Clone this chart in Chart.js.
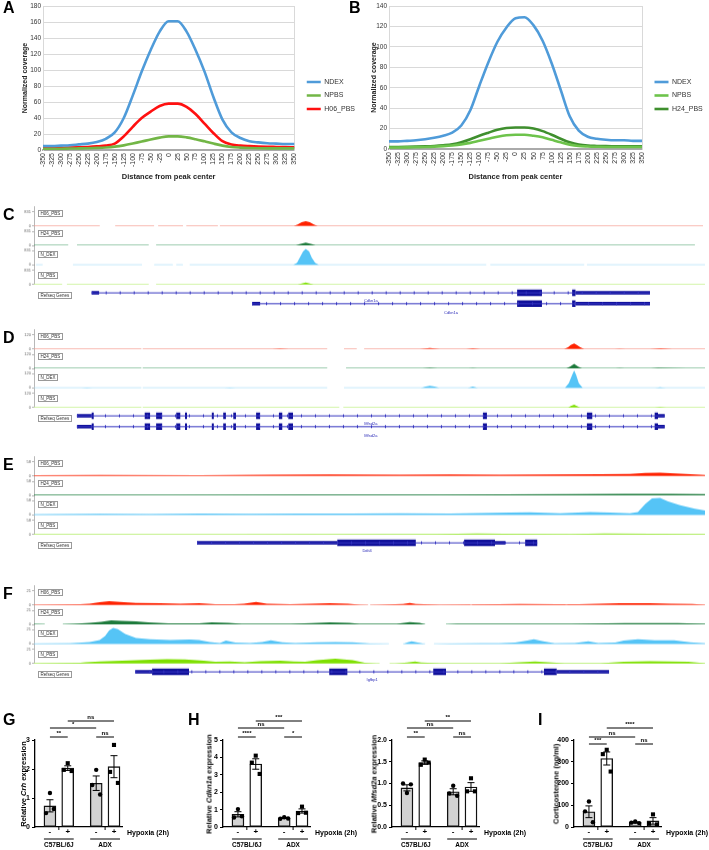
<!DOCTYPE html>
<html>
<head>
<meta charset="utf-8">
<title>Figure</title>
<script src="https://cdn.jsdelivr.net/npm/chart.js@4.4.1/dist/chart.umd.min.js"></script>
<style>
  body { margin: 0; background: #fff; }
  #fig { position: relative; width: 709px; height: 850px; overflow: hidden; font-family: "Liberation Sans", Arial, sans-serif; }
  #fig canvas { position: absolute; }
  .letter { position: absolute; font-size: 16px; font-weight: bold; line-height: 1; color: #000; }
  .tbox { position: absolute; font-size: 4.5px; line-height: 5px; padding: 0 1.5px; border: 0.8px solid #999; color: #333; background: #fff; white-space: nowrap; }
  .gname { position: absolute; font-size: 4px; line-height: 4px; color: #2b2bb8; transform: translateX(-50%); white-space: nowrap; }
  .ytitle { position: absolute; font-size: 7.5px; font-weight: bold; white-space: nowrap; transform: translate(-50%, -50%) rotate(-90deg); }
</style>
</head>
<body>
<div id="fig"></div>
<script>
Chart.defaults.font.family = '"Liberation Sans", Arial, sans-serif';
Chart.defaults.animation = false;
Chart.defaults.events = [];
Chart.defaults.plugins.tooltip.enabled = false;

/* A, B - average coverage around peak centres */
const distLabels = ['-350', '-325', '-300', '-275', '-250', '-225', '-200', '-175', '-150', '-125', '-100', '-75', '-50', '-25',
    '0', '25', '50', '75', '100', '125', '150', '175', '200', '225', '250', '275', '300', '325', '350'];

const aNDEX = [5, 5, 5.5, 6, 7, 8, 10, 14, 22, 40, 68, 98, 125, 148, 161, 161, 148, 125, 98, 66, 38, 22, 15, 11, 9.5, 8.5, 8, 7.5, 7.5];
const aNPBS = [1.5, 1.5, 1.5, 1.8, 2, 2.2, 2.6, 3.2, 4.2, 5.8, 8, 10.5, 13.2, 15.5, 17, 17, 15.8, 13.5, 10.8, 8, 5.5, 3.8, 3, 2.5, 2.2, 2, 2, 2, 2];
const aH06 = [2.5, 2.6, 2.8, 3, 3.3, 3.8, 4.5, 5.5, 8, 17, 29, 40, 48, 55, 58, 58, 54, 45, 33, 21, 11, 7, 5.5, 4.8, 4.3, 4, 3.8, 3.6, 3.5];

const bNDEX = [7.5, 7.5, 8, 8.5, 9.5, 11, 13, 16, 23, 38, 62, 85, 105, 119, 128, 129, 121, 106, 84, 58, 32, 18, 12, 10, 9, 8.5, 8.5, 8, 8];
const bNPBS = [1.5, 1.5, 1.6, 1.8, 2, 2.3, 2.8, 3.5, 4.5, 6, 8, 10, 12, 13.5, 14, 14, 13, 11.5, 9, 6.5, 4.3, 3, 2.5, 2.2, 2, 2, 2, 2, 2];
const bH24 = [2, 2, 2.1, 2.3, 2.6, 3, 3.6, 4.5, 6.5, 9.5, 13, 16, 18.8, 20.5, 21, 21, 20, 17.5, 14, 10, 6.5, 4.3, 3.3, 3, 2.8, 2.7, 2.6, 2.6, 2.6];

/* C-F - browser tracks: [position in % of window, signal] */
const cMax = 831;
const cH06 = [[38.7, 0], [39.3, 90], [39.9, 220], [40.5, 280], [41.1, 220], [41.7, 90], [42.3, 0]];
const cH24 = [[39.0, 0], [39.6, 80], [40.5, 170], [41.4, 80], [42.0, 0]];
const cNDEX = [[38.6, 0], [39.2, 120], [39.6, 420], [40.1, 800], [40.5, 950], [41.0, 800], [41.4, 420], [41.9, 120], [42.5, 0]];
const cNPBS = [[39.3, 0], [39.9, 60], [40.5, 110], [41.1, 60], [41.7, 0]];
const cCovered = [
    [[0, 9.8], [12.1, 17.9], [18.5, 22.2], [22.7, 27.4], [27.7, 99.7]],
    [[0, 5.1], [6.4, 17.1], [18.2, 98.5]],
    [[0.3, 1.3], [5.8, 16.1], [17.9, 20.7], [21.2, 22.2], [23.2, 67.4], [68.0, 82.0], [82.4, 100]],
    [[0, 4.2], [4.9, 17.1], [18.2, 100]]
];
const cGenes = [
    {name: 'Cdkn1a', span: [8.6, 91.8], utr: [[8.6, 9.7], [80.7, 91.8]], cds: [[72.0, 75.7], [80.2, 80.7]]},
    {name: 'Cdkn1a', span: [32.5, 91.8], utr: [[32.5, 33.7], [80.7, 91.8]], cds: [[72.0, 75.7], [80.2, 80.7]]}
];

const dMax = 120;
const dH06 = [[35.5, 0], [36.7, 4], [38, 0], [57.5, 0], [59.0, 8], [60.5, 0], [64.4, 0], [65.4, 6], [66.5, 0], [79.0, 0], [79.6, 15], [80.0, 35],
    [80.5, 48], [80.9, 35], [81.4, 15], [82.0, 0], [86.5, 0], [87.3, 3], [88.2, 0], [91.8, 0], [93.4, 6], [95.1, 0]];
const dH24 = [[57.8, 0], [59.0, 5], [60.3, 0], [64.6, 0], [65.4, 3], [66.2, 0], [79.3, 0], [79.9, 15], [80.5, 40], [81.1, 15], [81.7, 0],
    [86.5, 0], [87.3, 3], [88.2, 0], [91.8, 0], [93, 4], [95, 3], [97.8, 0]];
const dNDEX = [[7.0, 0], [7.9, 3], [8.8, 0], [28.3, 0], [29.2, 3], [30.1, 0], [57.6, 0], [58.4, 12], [59.0, 18], [59.7, 12], [60.5, 0],
    [64.6, 0], [65.4, 12], [66.2, 0], [79.1, 0], [79.7, 40], [80.2, 110], [80.5, 150], [80.8, 110], [81.2, 40], [81.8, 0], [92.5, 0], [93.3, 6], [94.2, 0]];
const dNPBS = [[79.6, 0], [80.0, 12], [80.5, 24], [80.9, 12], [81.4, 0], [92.5, 0], [93.3, 3], [94.2, 0]];
const dCovered = [
    [[0, 16.0], [16.2, 43.7], [46.2, 48.1], [49.2, 100]],
    [[0, 16.0], [16.2, 43.7], [46.5, 100]],
    [[0, 16.0], [16.2, 43.7], [46.2, 100]],
    [[0, 16.0], [16.2, 45.5], [46.1, 100]]
];
const mfsd2aCds = [[8.6, 8.9], [16.5, 17.3], [18.2, 19.1], [21.2, 21.8], [22.5, 22.8], [26.5, 26.8], [28.2, 28.6], [29.7, 30.1],
    [33.1, 33.7], [36.5, 37.0], [37.9, 38.6], [66.9, 67.5], [82.4, 83.2], [92.5, 93.0]];
const dGenes = [
    {name: 'Mfsd2a', span: [6.4, 94.0], utr: [[6.4, 8.6], [93.0, 94.0]], cds: mfsd2aCds},
    {name: 'Mfsd2a', span: [6.4, 94.0], utr: [[6.4, 8.6], [93.0, 94.0]], cds: mfsd2aCds}
];

const eMax = 58;
const eH06 = [[0, 3], [9.8, 4], [24.7, 3], [35.2, 5], [44.1, 6], [54.5, 5], [62, 6], [69.4, 5], [76.9, 6], [84.4, 7], [88.8, 8], [91.1, 12],
    [93.3, 13], [96.3, 9], [99.3, 5], [100, 4]];
const eH24 = [[0, 2], [20, 2], [40, 3], [60, 3], [80, 5], [88, 6], [95, 6], [100, 5]];
const eNDEX = [[0, 3], [9.8, 5], [17.3, 4], [24.7, 6], [32.2, 5], [39.6, 6], [47.1, 6], [54.5, 7], [62, 6], [66.5, 8], [70.9, 10], [73.9, 11],
    [78.4, 7], [82.9, 12], [85.8, 10], [88.8, 7], [90, 12], [91.1, 45], [92.1, 68], [93.3, 70], [94.5, 55], [96.3, 40], [98.5, 25], [100, 18]];
const eNPBS = [[0, 1], [30, 1], [60, 2], [66, 4], [70, 3], [80, 2], [85, 4], [92, 3], [100, 2]];
const eCovered = [[[0, 100]], [[0, 100]], [[0, 100]], [[0, 100]]];
const eGenes = [
    {name: 'Ddit4', span: [24.3, 75.0], utr: [[24.3, 45.2], [68.7, 70.2]], cds: [[45.2, 56.9], [64.1, 68.7], [73.2, 75.0]]}
];

const fMax = 21;
const fH06 = [[0, 0.5], [6.9, 1], [8.3, 2], [9.8, 4], [11.2, 5.5], [12.8, 4.5], [15.2, 3], [18.8, 2.5], [21.8, 2], [24.6, 2.5], [27, 1], [29.9, 1],
    [31.3, 2], [33.1, 4.5], [34.7, 2], [38.2, 1], [41.4, 2], [44.1, 2.5], [46.8, 2], [48.6, 0.5], [49.8, 0], [50.1, 0], [51.6, 0.5], [55, 1.5],
    [56, 3], [56.9, 1.5], [60.5, 0.5], [69.2, 1], [72.4, 1.5], [77.9, 1], [81.2, 1], [84.4, 2], [87.3, 2.5], [91.8, 2.5], [94.8, 2], [98.1, 1.5], [100, 0.5]];
const fH24 = [[0, 0.5], [1.6, 0], [4.3, 0], [6, 1], [8.3, 2.5], [10, 4], [11.5, 6], [13, 5.5], [15.2, 4.5], [17, 3], [20, 1.5], [24.6, 1.5],
    [26.5, 3], [29, 2.5], [31, 1], [38.2, 1], [41.4, 2], [44.1, 3], [47, 2.5], [48.5, 1], [54, 1], [56, 3.5], [57.5, 2.5], [58.3, 0], [61.4, 0],
    [63, 1], [80, 1], [88, 1.8], [96, 1.8], [100, 1]];
const fNDEX = [[0, 0.5], [5.4, 1], [8.3, 3], [9.8, 6], [10.6, 12], [11.2, 20], [11.8, 24], [12.5, 22], [13.6, 15], [15.2, 9], [17.3, 7], [20.3, 6],
    [23.2, 6.5], [24.6, 6], [26.2, 3], [27.7, 1.5], [28.6, 5], [30.0, 2], [32.2, 1.5], [34.0, 3], [35.3, 5.5], [37.0, 2.5], [38.9, 1.5], [42.2, 2.5],
    [44.9, 3], [47.5, 2.5], [50.1, 0.5], [52.9, 0], [55.0, 0], [55.7, 2.5], [56.3, 4], [57.2, 2], [58.3, 0], [59.6, 0], [62.0, 0.5], [66.5, 1],
    [69.2, 1], [71.7, 2], [73.5, 5], [74.5, 7], [75.9, 4], [77.6, 1], [80.6, 1.5], [82.6, 4], [84.1, 1.5], [86.6, 2], [87.9, 5], [90.0, 7],
    [92.5, 5.5], [95.4, 5.5], [97.8, 2.5], [100, 1]];
const fNPBS = [[0, 0.5], [6.9, 1], [7.7, 2], [9.8, 3], [14.3, 4.5], [17.3, 5.5], [19.8, 6.5], [22.5, 6], [25.3, 4], [27, 2.5], [29.2, 3], [31.4, 2],
    [33.7, 3.5], [36.7, 4], [38.7, 3], [40.4, 2.5], [42.2, 5], [44.9, 7], [47.5, 5], [49.3, 1], [51, 0], [53.8, 0], [55.6, 1.5], [56.8, 3], [57.7, 1.5],
    [60.5, 0.5], [69.4, 0.5], [72.4, 2], [74.7, 3], [76.6, 2], [79.1, 0.5], [84.4, 0.5], [87.9, 2.5], [91.8, 3.5], [94.8, 3], [97.5, 2.5], [100, 0.5]];
const fCovered = [
    [[0, 49.8], [50.1, 65], [65.3, 79.2], [79.5, 100]],
    [[0, 1.6], [4.3, 58.3], [61.4, 100]],
    [[0, 52.9], [55.0, 58.3], [59.6, 100]],
    [[0, 51.5], [53.0, 100]]
];
const fGenes = [
    {name: 'Igfbp1', span: [15.1, 85.7], utr: [[15.1, 17.6], [77.9, 85.7]], cds: [[17.6, 23.1], [44.0, 46.7], [59.5, 61.4], [76.0, 77.9]]}
];

/* G-I - qPCR / ELISA bars (mean, SEM, replicates) */
const hypoxia = ['-', '+', '-', '+'];
const groups = ['C57BL/6J', 'ADX'];

const gMean = [0.73, 2.03, 1.51, 2.08];
const gSem = [0.21, 0.08, 0.25, 0.38];
const gPts = [[0.48, 1.17, 0.62], [1.97, 2.2, 1.93], [1.45, 1.97, 1.12], [1.9, 2.83, 1.52]];
const gSig = [[0, 1, '**'], [2, 3, 'ns'], [0, 2, '*'], [1, 3, 'ns']];

const cdMean = [0.73, 3.62, 0.52, 0.92];
const cdSem = [0.15, 0.3, 0.03, 0.12];
const cdPts = [[0.55, 1.03, 0.62], [3.7, 4.1, 3.05], [0.47, 0.56, 0.49], [0.8, 1.17, 0.82]];
const cdSig = [[0, 1, '****'], [2, 3, '*'], [0, 2, 'ns'], [1, 3, '***']];

const mfMean = [0.9, 1.48, 0.81, 0.92];
const mfSem = [0.07, 0.04, 0.07, 0.1];
const mfPts = [[1.0, 0.78, 0.98], [1.43, 1.55, 1.48], [0.77, 0.95, 0.72], [0.82, 1.12, 0.82]];
const mfSig = [[0, 1, '**'], [2, 3, 'ns'], [0, 2, 'ns'], [1, 3, '**']];

const coMean = [70, 315, 21, 28];
const coSem = [27, 30, 2, 15];
const coPts = [[72, 117, 22], [335, 355, 255], [20, 25, 18], [15, 58, 12]];
const coSig = [[0, 1, '***'], [2, 3, 'ns'], [0, 2, 'ns'], [1, 3, '****']];

/* helpers */
const fig = document.getElementById('fig');

function addCanvas(x, y, w, h) {
    const c = document.createElement('canvas');
    c.width = w;
    c.height = h;
    c.style.left = x + 'px';
    c.style.top = y + 'px';
    c.style.width = w + 'px';
    c.style.height = h + 'px';
    fig.appendChild(c);
    return c;
}

function addDiv(cls, html, x, y) {
    const d = document.createElement('div');
    d.className = cls;
    d.innerHTML = html;
    d.style.left = x + 'px';
    d.style.top = y + 'px';
    fig.appendChild(d);
    return d;
}

/* profile charts (A, B) */
function profileChart(x, w, series, yMax, padL, yW, xH, legW) {
    const cv = addCanvas(x, 0, w, 185);
    return new Chart(cv, {
        type: 'line',
        data: {
            labels: distLabels,
            datasets: series.map(s => ({
                label: s.label,
                data: s.data,
                borderColor: s.color,
                backgroundColor: s.color,
                borderWidth: 2.6,
                pointRadius: 0,
                cubicInterpolationMode: 'monotone',
                fill: false
            }))
        },
        options: {
            responsive: false,
            layout: {padding: {left: padL, top: 6, right: 0, bottom: 0}},
            scales: {
                x: {
                    offset: false,
                    grid: {display: false, drawTicks: false},
                    border: {color: '#aaaaaa', width: 2},
                    ticks: {autoSkip: false, maxRotation: 90, minRotation: 90, font: {size: 7}, color: '#333', padding: 3},
                    title: {display: true, text: 'Distance from peak center', font: {size: 7.5, weight: 'bold'}, color: '#222', padding: {top: 0, bottom: 4}},
                    afterFit: s => { s.height = xH; }
                },
                y: {
                    min: 0,
                    max: yMax,
                    ticks: {stepSize: 20, font: {size: 6.5}, color: '#333', padding: 2},
                    grid: {color: '#d9d9d9', drawTicks: false},
                    border: {color: '#d9d9d9'},
                    title: {display: true, text: 'Normalized coverage', font: {size: 7, weight: 'bold'}, color: '#222', padding: {top: 4, bottom: 0}},
                    afterFit: s => { s.width = yW; }
                },
                y2: {
                    type: 'linear',
                    position: 'right',
                    ticks: {display: false},
                    grid: {display: false, drawTicks: false},
                    border: {color: '#d9d9d9'},
                    afterFit: s => { s.width = 6; }
                }
            },
            plugins: {
                legend: {
                    position: 'right',
                    maxWidth: legW,
                    labels: {usePointStyle: true, pointStyle: 'line', pointStyleWidth: 14, boxHeight: 7, padding: 6.5, font: {size: 7}, color: '#333'}
                }
            }
        }
    });
}

profileChart(0, 365, [
    {label: 'NDEX', data: aNDEX, color: '#4f9bd9'},
    {label: 'NPBS', data: aNPBS, color: '#72b646'},
    {label: 'H06_PBS', data: aH06, color: '#ff1010'}
], 180, 17, 26, 35, 65);

profileChart(355, 354, [
    {label: 'NDEX', data: bNDEX, color: '#4f9bd9'},
    {label: 'NPBS', data: bNPBS, color: '#6dc34b'},
    {label: 'H24_PBS', data: bH24, color: '#3f8f2e'}
], 140, 11, 23, 36, 61);

/* browser track panels (C-F) */
const trackNames = ['H06_PBS', 'H24_PBS', 'N_DEX', 'N_PBS'];
const trackFill = ['#ff2200', '#1d7a3b', '#55c4f6', '#7ee000'];
const trackBase = ['#f6a49a', '#3f9c62', '#b4e4fa', '#c4f08c'];
const TRACK_H = 20.7;
const GENE_H = 32;
const ROW_Y = [0.72, 0.36];

function segPoints(list, yv) {
    return list.flatMap(s => [{x: s[0], y: yv}, {x: s[1], y: yv}, {x: s[1], y: null}]);
}

function trackPanel(letter, top, maxVal, covs, covered, genes) {
    const h = TRACK_H * 4 + GENE_H;
    const cv = addCanvas(0, top, 709, h);
    const scales = {x: {type: 'linear', min: 0, max: 100, display: false}};
    const datasets = [];

    covs.forEach((cov, i) => {
        const id = 't' + i;
        scales[id] = {
            type: 'linear', position: 'left', stack: 'trk', stackWeight: TRACK_H, weight: 10 - i,
            min: 0, max: maxVal * 1.38,
            afterBuildTicks: s => { s.ticks = [{value: 0}, {value: maxVal}]; },
            afterFit: s => { s.width = 34; },
            ticks: {font: {size: 4}, color: '#666', padding: 1, autoSkip: false},
            grid: {drawOnChartArea: false, tickLength: 2, color: '#888', lineWidth: 0.6},
            border: {color: '#888', width: 0.6}
        };
        datasets.push({
            data: cov.map(p => ({x: p[0], y: p[1]})),
            yAxisID: id, fill: 'origin', backgroundColor: trackFill[i], borderWidth: 0, order: 1
        });
        datasets.push({
            data: segPoints(covered[i], 0),
            yAxisID: id, fill: false, borderColor: trackBase[i], borderWidth: 1.3, order: 2
        });
    });

    scales.g = {
        type: 'linear', position: 'left', stack: 'trk', stackWeight: GENE_H, weight: 1, min: 0, max: 1,
        afterFit: s => { s.width = 34; },
        ticks: {display: false}, grid: {display: false, drawTicks: false}, border: {display: false}
    };
    genes.forEach((gn, k) => {
        const yv = ROW_Y[k];
        const line = [{x: gn.span[0], y: yv}, {x: gn.span[1], y: yv}];
        datasets.push({data: line, yAxisID: 'g', borderColor: '#3434bf', borderWidth: 1, order: 3});
        datasets.push({data: line, yAxisID: 'g', borderColor: '#3434bf', borderWidth: 3, borderDash: [1, 13], order: 3});
        datasets.push({data: segPoints(gn.utr, yv), yAxisID: 'g', borderColor: '#10109a', borderWidth: 3.5, order: 3});
        datasets.push({data: segPoints(gn.cds, yv), yAxisID: 'g', borderColor: '#10109a', borderWidth: 6.5, order: 3});
    });

    const chart = new Chart(cv, {
        type: 'line',
        data: {datasets: datasets},
        options: {
            responsive: false,
            layout: {padding: {left: 0, right: 4, top: 0, bottom: 0}},
            elements: {point: {radius: 0}, line: {tension: 0}},
            scales: scales,
            plugins: {legend: {display: false}}
        }
    });

    addDiv('letter', letter, 3, top + 4);
    trackNames.forEach((n, i) => addDiv('tbox', n, 38, top + TRACK_H * (i + 1) - 14.5));
    const rowPix = k => top + TRACK_H * 4 + GENE_H * (1 - ROW_Y[k]);
    addDiv('tbox', 'Refseq Genes', 38, rowPix(0) - 3);
    genes.forEach((gn, k) => {
        const px = chart.scales.x.getPixelForValue((gn.span[0] + gn.span[1]) / 2);
        addDiv('gname', gn.name, px, rowPix(k) + 4);
    });
}

trackPanel('C', 203.3, cMax, [cH06, cH24, cNDEX, cNPBS], cCovered, cGenes);
trackPanel('D', 326.3, dMax, [dH06, dH24, dNDEX, dNPBS], dCovered, dGenes);
trackPanel('E', 453.3, eMax, [eH06, eH24, eNDEX, eNPBS], eCovered, eGenes);
trackPanel('F', 582.3, fMax, [fH06, fH24, fNDEX, fNPBS], fCovered, fGenes);

/* bar panels (G-I) */
const JIT = [-0.22, 0, 0.22];
const SIG_LEVEL = [0, 0, 1, 2];
const FONT = '"Liberation Sans", Arial, sans-serif';

function prismPlugin(pos, mean, sem, sig, sigOff) {
    return {
        id: 'prism',
        afterDatasetsDraw(chart) {
            const {ctx, scales: {x, y}} = chart;
            ctx.save();
            ctx.strokeStyle = '#000';
            ctx.lineWidth = 1;
            mean.forEach((m, i) => {
                const px = x.getPixelForValue(pos[i]);
                const lo = y.getPixelForValue(m - sem[i]);
                const hi = y.getPixelForValue(m + sem[i]);
                ctx.beginPath();
                ctx.moveTo(px, lo); ctx.lineTo(px, hi);
                ctx.moveTo(px - 3.5, lo); ctx.lineTo(px + 3.5, lo);
                ctx.moveTo(px - 3.5, hi); ctx.lineTo(px + 3.5, hi);
                ctx.stroke();
            });
            ctx.restore();
        },
        afterDraw(chart) {
            const {ctx, chartArea: a, scales: {x}} = chart;
            ctx.save();
            ctx.strokeStyle = '#000';
            ctx.fillStyle = '#000';
            ctx.lineWidth = 1;
            ctx.textAlign = 'center';
            ctx.textBaseline = 'bottom';
            ctx.font = 'bold 6px ' + FONT;
            sig.forEach((s, k) => {
                const yy = a.top + sigOff[SIG_LEVEL[k]];
                const xa = x.getPixelForValue(pos[s[0]]);
                const xb = x.getPixelForValue(pos[s[1]]);
                ctx.beginPath(); ctx.moveTo(xa, yy); ctx.lineTo(xb, yy); ctx.stroke();
                ctx.fillText(s[2], (xa + xb) / 2, yy - 1);
            });
            ctx.textBaseline = 'middle';
            ctx.font = 'bold 6.5px ' + FONT;
            groups.forEach((g, k) => {
                const xa = x.getPixelForValue(pos[2 * k]);
                const xb = x.getPixelForValue(pos[2 * k + 1]);
                const mid = (xa + xb) / 2;
                ctx.beginPath();
                ctx.moveTo(mid, a.bottom); ctx.lineTo(mid, a.bottom + 3);
                ctx.moveTo(xa - 6, a.bottom + 12); ctx.lineTo(xb + 6, a.bottom + 12);
                ctx.stroke();
                ctx.fillText(g, mid, a.bottom + 18);
            });
            ctx.textAlign = 'left';
            ctx.font = 'bold 7px ' + FONT;
            ctx.fillText('Hypoxia (2h)', a.right + 5, a.bottom + 6);
            ctx.restore();
        }
    };
}

function barPanel(axisX, canvasW, yMax, yStep, dec, mean, sem, pts, sig, sigOff) {
    const cv = addCanvas(axisX - 35, 700, canvasW, 150);
    const pos = mean.map((m, i) => Math.floor(i / 2) * 2.6 + (i % 2));
    new Chart(cv, {
        type: 'bar',
        data: {
            datasets: [
                {
                    type: 'bar',
                    data: mean.map((m, i) => ({x: pos[i], y: m})),
                    backgroundColor: mean.map((m, i) => i % 2 ? '#ffffff' : '#d2d2d2'),
                    borderColor: '#111', borderWidth: 1.4, borderSkipped: false, barThickness: 12, order: 2
                },
                {
                    type: 'scatter',
                    data: pts.flatMap((p, i) => p.map((v, k) => ({x: pos[i] + JIT[k], y: v}))),
                    pointStyle: pts.flatMap((p, i) => p.map(() => i % 2 ? 'rect' : 'circle')),
                    pointRadius: pts.flatMap((p, i) => p.map(() => i % 2 ? 2.9 : 2.2)),
                    backgroundColor: '#000', borderColor: '#000', borderWidth: 0, order: 1
                }
            ]
        },
        options: {
            responsive: false,
            layout: {padding: {left: 0, top: 40, right: canvasW - 122, bottom: 0}},
            scales: {
                x: {
                    type: 'linear', min: -0.84, max: 4.05, offset: false,
                    afterBuildTicks: s => { s.ticks = pos.map(v => ({value: v})); },
                    ticks: {callback: (v, i) => hypoxia[i], font: {size: 8, weight: 'bold'}, color: '#000', padding: 0, maxRotation: 0, autoSkip: false},
                    grid: {display: false, drawTicks: false},
                    border: {color: '#000', width: 1.3},
                    afterFit: s => { s.height = 23; }
                },
                y: {
                    min: 0, max: yMax,
                    ticks: {stepSize: yStep, font: {size: 7, weight: 'bold'}, color: '#000', padding: 2, callback: v => dec ? v.toFixed(1) : v},
                    grid: {drawOnChartArea: false, tickLength: 3, color: '#000', lineWidth: 1},
                    border: {color: '#000', width: 1.3},
                    afterFit: s => { s.width = 35; }
                }
            },
            plugins: {legend: {display: false}}
        },
        plugins: [prismPlugin(pos, mean, sem, sig, sigOff)]
    });
}

barPanel(35, 175, 3, 1, false, gMean, gSem, gPts, gSig, [-3, -12, -19]);
barPanel(223, 175, 5, 1, false, cdMean, cdSem, cdPts, cdSig, [-3, -12, -19]);
barPanel(392, 175, 2, 0.5, true, mfMean, mfSem, mfPts, mfSig, [-3, -12, -19]);
barPanel(574, 170, 400, 100, false, coMean, coSem, coPts, coSig, [4, -3, -12]);

addDiv('ytitle', 'Relative <i>Crh</i> expression', 23, 784);
addDiv('ytitle', 'Relative <i>Cdkn1a</i> expression', 209, 784);
addDiv('ytitle', 'Relative <i>Mfsd2a</i> expression', 374, 784);
addDiv('ytitle', 'Corticosterone (ng/ml)', 556, 784);

addDiv('letter', 'A', 3, 0);
addDiv('letter', 'B', 349, 0);
addDiv('letter', 'G', 3, 712);
addDiv('letter', 'H', 188, 712);
addDiv('letter', 'I', 538, 712);
</script>
</body>
</html>
